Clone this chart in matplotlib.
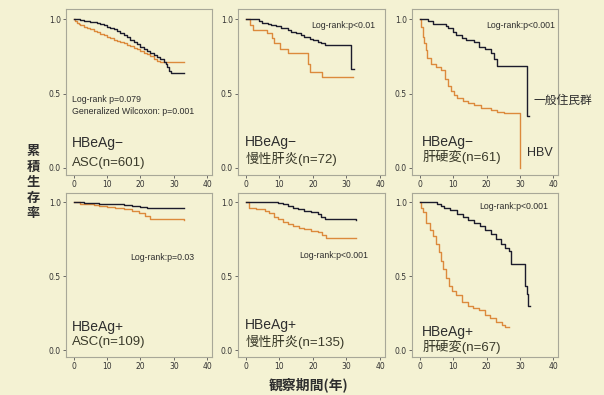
import matplotlib
matplotlib.use("Agg")
import matplotlib.pyplot as plt

# 生存曲線の読み取り値 (年, 累積生存率)
# 上段: HBeAg-, 下段: HBeAg+ / 黒: 一般住民群, 橙: HBV
ippan_asc_neg_t = [0, 1, 2, 3, 4, 5, 6, 7, 8, 9, 10, 11, 12, 13, 14, 15, 16, 17, 18,
                   19, 20, 21, 22, 23, 24, 25, 26, 27, 27.5, 28, 28.5, 29, 30, 33]
ippan_asc_neg_s = [1.0, 0.998, 0.995, 0.99, 0.985, 0.98, 0.977, 0.972, 0.966, 0.958,
                   0.95, 0.94, 0.93, 0.918, 0.905, 0.892, 0.878, 0.862, 0.846, 0.83,
                   0.815, 0.8, 0.787, 0.774, 0.762, 0.748, 0.732, 0.715, 0.7, 0.675,
                   0.65, 0.64, 0.637, 0.637]
hbv_asc_neg_t = [0, 0.5, 1, 1.6, 2, 3, 4, 5, 6, 7, 8, 9, 10, 11, 12, 13, 14, 15, 16,
                 17, 18, 19, 20, 21, 22, 23, 24, 25, 26, 27, 33]
hbv_asc_neg_s = [1.0, 0.985, 0.975, 0.968, 0.962, 0.95, 0.94, 0.93, 0.92, 0.91, 0.9,
                 0.89, 0.88, 0.87, 0.862, 0.853, 0.845, 0.837, 0.828, 0.818, 0.808,
                 0.797, 0.786, 0.775, 0.764, 0.752, 0.735, 0.72, 0.712, 0.71, 0.71]

ippan_ch_neg_t = [0, 4, 5, 6.5, 7.6, 9, 10.5, 12.5, 13.5, 15, 16.5, 17.5, 19, 20,
                  21.5, 22.5, 23.5, 31.5, 32.3]
ippan_ch_neg_s = [1.0, 0.985, 0.975, 0.968, 0.96, 0.952, 0.94, 0.926, 0.915, 0.905,
                  0.893, 0.88, 0.868, 0.857, 0.846, 0.837, 0.826, 0.664, 0.664]
hbv_ch_neg_t = [0, 1.2, 2.2, 6.2, 7.7, 8.5, 10.2, 12.6, 18.6, 19.2, 22.6, 32]
hbv_ch_neg_s = [1.0, 0.96, 0.926, 0.904, 0.87, 0.837, 0.8, 0.77, 0.7, 0.646, 0.613,
                0.613]

ippan_lc_neg_t = [0, 2.4, 3.9, 5, 7.9, 8.5, 9.9, 11, 12.8, 14, 16.2, 17.8, 19.5,
                  21.2, 22.2, 23.2, 32, 32.6]
ippan_lc_neg_s = [1.0, 0.985, 0.97, 0.965, 0.955, 0.94, 0.915, 0.893, 0.87, 0.86,
                  0.845, 0.814, 0.8, 0.77, 0.73, 0.687, 0.349, 0.349]
hbv_lc_neg_t = [0, 0.5, 0.9, 1.3, 1.8, 2.3, 3.3, 5, 6.3, 7.5, 8.5, 9.3, 10.3, 11.3,
                13, 14.5, 16.2, 18.5, 21.2, 23, 25.2, 30.1]
hbv_lc_neg_s = [1.0, 0.95, 0.88, 0.84, 0.79, 0.74, 0.7, 0.68, 0.66, 0.6, 0.55, 0.52,
                0.49, 0.47, 0.45, 0.435, 0.42, 0.405, 0.39, 0.375, 0.367, 0.0]

ippan_asc_pos_t = [0, 3, 7.6, 10, 12.5, 15, 17.5, 20, 22, 33.1]
ippan_asc_pos_s = [1.0, 0.995, 0.99, 0.987, 0.985, 0.98, 0.973, 0.965, 0.958, 0.958]
hbv_asc_pos_t = [0, 2, 3.6, 6, 7.6, 10, 12.5, 15, 17.5, 19.5, 21.5, 23, 33.1]
hbv_asc_pos_s = [1.0, 0.99, 0.985, 0.98, 0.975, 0.968, 0.962, 0.955, 0.94, 0.928,
                 0.906, 0.885, 0.88]

ippan_ch_pos_t = [0, 9.5, 11, 12.5, 14, 15.5, 17.5, 19.5, 21.5, 22.5, 23.5, 32.8]
ippan_ch_pos_s = [1.0, 0.993, 0.985, 0.973, 0.962, 0.953, 0.94, 0.93, 0.917, 0.9,
                  0.884, 0.88]
hbv_ch_pos_t = [0, 1.1, 3, 5.6, 7, 8.5, 9.5, 11, 12.5, 14, 16, 17.5, 19.5, 21.5,
                22.8, 24, 32.8]
hbv_ch_pos_s = [1.0, 0.96, 0.955, 0.94, 0.925, 0.9, 0.884, 0.865, 0.85, 0.84, 0.828,
                0.817, 0.805, 0.795, 0.775, 0.76, 0.76]

ippan_lc_pos_t = [0, 5.3, 6.5, 7.3, 9, 11.3, 13, 14.5, 16.2, 18, 19.5, 21.2, 22.8,
                  24.2, 25.5, 26.7, 27.2, 31.6, 32.1, 32.5, 33.1]
ippan_lc_pos_s = [1.0, 0.99, 0.975, 0.96, 0.945, 0.917, 0.9, 0.88, 0.86, 0.835, 0.81,
                  0.783, 0.75, 0.716, 0.69, 0.67, 0.58, 0.436, 0.38, 0.295, 0.295]
hbv_lc_pos_t = [0, 0.5, 0.9, 1.9, 3, 3.9, 5, 5.9, 6.4, 6.9, 7.9, 8.9, 9.8, 10.8,
                12.8, 14.5, 16, 17.8, 19.5, 21, 22.8, 24.5, 25.5, 26.8]
hbv_lc_pos_s = [1.0, 0.96, 0.93, 0.86, 0.81, 0.77, 0.72, 0.66, 0.6, 0.548, 0.49,
                0.436, 0.4, 0.37, 0.324, 0.3, 0.285, 0.268, 0.24, 0.215, 0.19, 0.17,
                0.157, 0.157]

row_labels = ["HBeAg\u2212", "HBeAg+"]
group_labels = [["ASC(n=601)", "慢性肝炎(n=72)", "肝硬変(n=61)"],
                ["ASC(n=109)", "慢性肝炎(n=135)", "肝硬変(n=67)"]]
pvalue_labels = [["Log-rank p=0.079\nGeneralized Wilcoxon: p=0.001",
                  "Log-rank:p<0.01", "Log-rank:p<0.001"],
                 ["Log-rank:p=0.03", "Log-rank:p<0.001", "Log-rank:p<0.001"]]
x_ticks = [0, 10, 20, 30, 40]
y_ticks = [0.0, 0.5, 1.0]
y_ticklabels = ["0.0", "0.5", "1.0"]

curves = [
    [(ippan_asc_neg_t, ippan_asc_neg_s, hbv_asc_neg_t, hbv_asc_neg_s),
     (ippan_ch_neg_t, ippan_ch_neg_s, hbv_ch_neg_t, hbv_ch_neg_s),
     (ippan_lc_neg_t, ippan_lc_neg_s, hbv_lc_neg_t, hbv_lc_neg_s)],
    [(ippan_asc_pos_t, ippan_asc_pos_s, hbv_asc_pos_t, hbv_asc_pos_s),
     (ippan_ch_pos_t, ippan_ch_pos_s, hbv_ch_pos_t, hbv_ch_pos_s),
     (ippan_lc_pos_t, ippan_lc_pos_s, hbv_lc_pos_t, hbv_lc_pos_s)],
]

BG = "#f4f2d3"
BLACK = "#1c1c2c"
ORANGE = "#dc8a3c"
TXT = "#2e2e2e"
LAT = ["Liberation Sans", "Noto Sans CJK JP"]
NARROW = ["Liberation Sans Narrow", "Liberation Sans"]
CJK = ["Noto Sans CJK JP", "DejaVu Sans"]

# p値の位置 (x, y, ha)
pv_pos = [[(-0.4, 0.42, "left"), (38.5, 0.96, "right"), (40.6, 0.96, "right")],
          [(36.1, 0.626, "right"), (36.4, 0.638, "right"), (38.5, 0.973, "right")]]
lab_y = [[(0.168, 0.036), (0.177, 0.06), (0.177, 0.076)],
         [(0.156, 0.056), (0.168, 0.056), (0.123, 0.022)]]
lab_x = [-0.4, -0.1, 0.8]

fig = plt.figure(figsize=(6.04, 3.95), dpi=100)
fig.patch.set_facecolor(BG)

lefts = [0.109, 0.394, 0.682]
widths = [0.242, 0.243, 0.242]
bottoms = [0.557, 0.096]
heights = [0.42, 0.415]

for r in range(2):
    for c in range(3):
        ax = fig.add_axes([lefts[c], bottoms[r], widths[c], heights[r]])
        ax.set_facecolor(BG)
        it, isv, ht, hs = curves[r][c]
        ax.step(ht, hs, where="post", color=ORANGE, lw=1.0)
        ax.step(it, isv, where="post", color=BLACK, lw=1.0)
        ax.set_xlim(-2.3, 41.4)
        ax.set_ylim(-0.047, 1.06 if r else 1.067)
        ax.set_xticks(x_ticks)
        ax.set_yticks(y_ticks)
        ax.set_yticklabels(y_ticklabels)
        ax.tick_params(labelsize=5.5, length=2, width=0.6, pad=1.5,
                       colors="#555555", labelcolor="#333333")
        for sp in ax.spines.values():
            sp.set_color("#a8a898")
            sp.set_linewidth(0.8)

        px, py, ha = pv_pos[r][c]
        ax.text(px, py, pvalue_labels[r][c], ha=ha, va="center", fontsize=6.3,
                family=NARROW, color=TXT, linespacing=1.5)
        y1, y2 = lab_y[r][c]
        ax.text(lab_x[c], y1, row_labels[r], ha="left", va="center",
                fontsize=10, family=LAT, color=TXT)
        ax.text(lab_x[c], y2, group_labels[r][c], ha="left", va="center",
                fontsize=9.5, family=LAT, color="#3a3a2a")

        if r == 0 and c == 2:
            ax.text(34.0, 0.456, "一般住民群", ha="left", va="center",
                    fontsize=8.5, family=CJK, color=TXT, clip_on=False)
            ax.text(32.2, 0.10, "HBV", ha="left", va="center",
                    fontsize=9, family=LAT, color=TXT, clip_on=False)

fig.text(0.055, 0.539, "累\n積\n生\n存\n率", ha="center", va="center",
         fontsize=9.5, family=CJK, fontweight="bold", color=TXT, linespacing=1.15)
fig.text(0.51, 0.025, "観察期間(年)", ha="center", va="center",
         fontsize=10, family=CJK, fontweight="bold", color=TXT)

fig.savefig("out.png", dpi=100, facecolor=BG)
